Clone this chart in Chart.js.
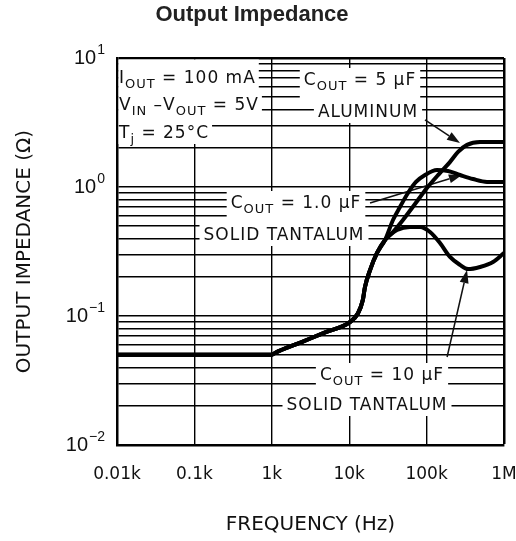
<!DOCTYPE html>
<html>
<head>
<meta charset="utf-8">
<title>Output Impedance</title>
<script src="https://cdn.jsdelivr.net/npm/chart.js@4.4.0/dist/chart.umd.min.js"></script>
<style>
  html, body { margin: 0; padding: 0; background: #fff; }
  canvas { display: block; }
</style>
</head>
<body>
<canvas id="impedanceChart" width="516" height="541"></canvas>
<script>
// frequency in Hz, impedance in ohms

// shared part: all three caps follow this up to ~30 kHz
const freqTrunk = [10, 100, 1000, 1100, 2300, 4900, 10200, 13000, 15000, 16000, 18600, 22900, 29000];
const zTrunk    = [0.05, 0.05, 0.05, 0.0517, 0.062, 0.0746, 0.0898, 0.105, 0.133, 0.168, 0.227, 0.308, 0.388];

// C_OUT = 10 uF solid tantalum
const freq10uF = [33700, 41500, 61100, 82300, 110700, 149000, 200500, 270000, 343000, 490000, 721000, 1000000];
const z10uF    = [0.425, 0.465, 0.49, 0.49, 0.448, 0.368, 0.287, 0.249, 0.231, 0.24, 0.262, 0.308];

// C_OUT = 1.0 uF solid tantalum
const freq1uF = [36800, 45300, 57500, 72900, 95300, 136000, 189000, 270000, 397000, 603000, 1000000];
const z1uF    = [0.555, 0.70, 0.898, 1.094, 1.239, 1.354, 1.33, 1.239, 1.153, 1.094, 1.094];

// C_OUT = 5 uF aluminum
const freq5uF = [36800, 49500, 70800, 101000, 144500, 200000, 255000, 333000, 490000, 1000000];
const z5uF    = [0.448, 0.555, 0.738, 0.982, 1.26, 1.56, 1.87, 2.12, 2.23, 2.23];

// ticks / grid
const xTickValues = [10, 100, 1000, 10000, 100000, 1000000];
const xTickLabels = ['0.01k', '0.1k', '1k', '10k', '100k', '1M'];
const yGridValues = [0.01, 0.02, 0.03, 0.04, 0.05, 0.06, 0.07, 0.08, 0.09,
                     0.1, 0.2, 0.3, 0.4, 0.5, 0.6, 0.7, 0.8, 0.9,
                     1, 2, 3, 4, 5, 6, 7, 8, 9, 10];
const yDecades   = [0.01, 0.1, 1, 10];
const yExponents = ['\u22122', '\u22121', '0', '1'];

const LABEL_FONT = '"DejaVu Sans", sans-serif';

// text blocks inside the plot (pixel offsets from the plot's top-left corner)
const noteGroups = [
    { padX: 3, rows: [
        { x: 2, y: 25, align: 'left', toTop: true, parts: [['I'], ['OUT', 1], [' = 100 mA']] },
        { x: 2, y: 52, align: 'left', parts: [['V'], ['IN', 1], [' \u2013V'], ['OUT', 1], [' = 5V']] },
        { x: 2, y: 80, align: 'left', parts: [['T'], ['j', 1], [' = 25\u00B0C']] }
    ]},
    { padX: 4, rows: [
        { x: 243, y: 27, align: 'center', parts: [['C'], ['OUT', 1], [' = 5 \u00B5F']] },
        { x: 251, y: 59, align: 'center', parts: [['ALUMINUM']] }
    ]},
    { padX: 4, rows: [
        { x: 179, y: 150, align: 'center', parts: [['C'], ['OUT', 1], [' = 1.0 \u00B5F']] },
        { x: 167, y: 182, align: 'center', parts: [['SOLID TANTALUM']] }
    ]},
    { padX: 4, rows: [
        { x: 265, y: 322, align: 'center', parts: [['C'], ['OUT', 1], [' = 10 \u00B5F']] },
        { x: 250, y: 352, align: 'center', parts: [['SOLID TANTALUM']] }
    ]}
];

// leader arrows, tail -> tip in data coords (Hz, ohm)
const arrows = [
    { from: [95300, 3.31],  to: [270000, 2.19] },
    { from: [18600, 0.751], to: [286000, 1.24] },
    { from: [184000, 0.0481], to: [333000, 0.227] }
];

function toPoints(fs, zs) {
    return fs.map((f, i) => ({ x: f, y: zs[i] }));
}

function measureRow(ctx, row) {
    const widths = row.parts.map(p => {
        ctx.font = (p[1] ? '13px ' : '17px ') + LABEL_FONT;
        return ctx.measureText(p[0]).width;
    });
    return { widths, total: widths.reduce((a, b) => a + b, 0) };
}

const notesPlugin = {
    id: 'notes',
    beforeDatasetsDraw(chart) {
        const ctx = chart.ctx;
        const area = chart.chartArea;
        ctx.save();
        ctx.letterSpacing = '1px';

        // white patches behind the text first
        noteGroups.forEach(group => {
            const laid = group.rows.map(row => {
                const m = measureRow(ctx, row);
                const ax = area.left + row.x;
                const start = row.align === 'center' ? ax - m.total / 2 : ax;
                return { row, m, start, base: area.top + row.y };
            });
            laid.forEach((l, i) => {
                let top = l.row.toTop ? area.top + 1.5 : l.base - 17;
                let bottom = i < laid.length - 1 ? laid[i + 1].base - 17 : l.base + 6;
                let left = Math.max(area.left + 1.5, l.start - group.padX);
                let right = l.start + l.m.total + group.padX;
                ctx.fillStyle = '#fff';
                ctx.fillRect(left, top, right - left, bottom - top);
            });
            group.laid = laid;
        });

        // text
        ctx.fillStyle = '#111';
        ctx.textBaseline = 'alphabetic';
        ctx.textAlign = 'left';
        noteGroups.forEach(group => {
            group.laid.forEach(l => {
                let x = l.start;
                l.row.parts.forEach((p, j) => {
                    ctx.font = (p[1] ? '13px ' : '17px ') + LABEL_FONT;
                    ctx.fillText(p[0], x, l.base + (p[1] ? 5 : 0));
                    x += l.m.widths[j];
                });
            });
        });
        ctx.letterSpacing = '0px';

        // arrows
        const xs = chart.scales.x, ys = chart.scales.y;
        ctx.strokeStyle = '#111';
        ctx.fillStyle = '#111';
        ctx.lineWidth = 1.5;
        arrows.forEach(a => {
            const x1 = xs.getPixelForValue(a.from[0]), y1 = ys.getPixelForValue(a.from[1]);
            const x2 = xs.getPixelForValue(a.to[0]), y2 = ys.getPixelForValue(a.to[1]);
            const ang = Math.atan2(y2 - y1, x2 - x1);
            const len = 13, half = 4.5;
            const bx = x2 - len * Math.cos(ang), by = y2 - len * Math.sin(ang);
            ctx.beginPath();
            ctx.moveTo(x1, y1);
            ctx.lineTo(bx, by);
            ctx.stroke();
            ctx.beginPath();
            ctx.moveTo(x2, y2);
            ctx.lineTo(bx + half * Math.sin(ang), by - half * Math.cos(ang));
            ctx.lineTo(bx - half * Math.sin(ang), by + half * Math.cos(ang));
            ctx.closePath();
            ctx.fill();
        });
        ctx.restore();
    },
    afterDraw(chart) {
        // 10^n labels on the y axis
        const ctx = chart.ctx;
        const ys = chart.scales.y;
        const right = chart.chartArea.left - 12;
        ctx.save();
        ctx.fillStyle = '#111';
        ctx.textAlign = 'right';
        ctx.textBaseline = 'middle';
        yDecades.forEach((v, i) => {
            const y = ys.getPixelForValue(v);
            ctx.font = '14px "Liberation Sans", Arial, sans-serif';
            const ew = ctx.measureText(yExponents[i]).width;
            ctx.fillText(yExponents[i], right, y - 8);
            ctx.font = '20px "Liberation Sans", Arial, sans-serif';
            ctx.fillText('10', right - ew - 1, y);
        });
        ctx.restore();
    }
};

const curveStyle = {
    borderColor: '#000',
    borderWidth: 4,
    pointRadius: 0,
    fill: false,
    cubicInterpolationMode: 'monotone',
    borderJoinStyle: 'round',
    borderCapStyle: 'round'
};

new Chart(document.getElementById('impedanceChart'), {
    type: 'line',
    data: {
        datasets: [
            { label: '10 uF tantalum', data: toPoints(freqTrunk.concat(freq10uF), zTrunk.concat(z10uF)), ...curveStyle },
            { label: '1.0 uF tantalum', data: toPoints(freqTrunk.concat(freq1uF), zTrunk.concat(z1uF)), ...curveStyle },
            { label: '5 uF aluminum', data: toPoints(freqTrunk.concat(freq5uF), zTrunk.concat(z5uF)), ...curveStyle }
        ]
    },
    options: {
        responsive: false,
        animation: false,
        events: [],
        layout: { padding: { left: 0, right: 12, top: 0, bottom: 0 } },
        plugins: {
            legend: { display: false },
            tooltip: { enabled: false },
            title: {
                display: true,
                text: 'Output Impedance',
                color: '#222',
                font: { family: '"Liberation Sans", Arial, sans-serif', size: 22, weight: 'bold' },
                padding: { top: 2, bottom: 29.6 }
            }
        },
        scales: {
            x: {
                type: 'logarithmic',
                min: 10,
                max: 1000000,
                afterBuildTicks: s => { s.ticks = xTickValues.map(v => ({ value: v })); },
                afterFit: s => { s.height = 96; s.paddingLeft = 0; s.paddingRight = 0; },
                ticks: {
                    autoSkip: false,
                    maxRotation: 0,
                    padding: 19,
                    color: '#111',
                    font: { family: LABEL_FONT, size: 17 },
                    callback: (v, i) => xTickLabels[i]
                },
                grid: {
                    color: '#000',
                    drawTicks: false,
                    lineWidth: c => (c.tick && c.tick.value === 1000000) ? 2.5 : 1.4
                },
                border: { color: '#000', width: 2.5 },
                title: {
                    display: true,
                    text: 'FREQUENCY (Hz)',
                    color: '#111',
                    font: { family: LABEL_FONT, size: 20 },
                    padding: { top: 0, bottom: 4 }
                }
            },
            y: {
                type: 'logarithmic',
                min: 0.01,
                max: 10,
                afterBuildTicks: s => { s.ticks = yGridValues.map(v => ({ value: v })); },
                afterFit: s => { s.width = 117; },
                ticks: { display: false },
                grid: {
                    color: '#000',
                    drawTicks: false,
                    lineWidth: c => (c.tick && c.tick.value === 10) ? 2.5 : 1.4
                },
                border: { color: '#000', width: 2.5 },
                title: {
                    display: true,
                    text: 'OUTPUT IMPEDANCE (\u03A9)',
                    color: '#111',
                    font: { family: LABEL_FONT, size: 20 },
                    padding: { top: 13, bottom: 0 }
                }
            }
        }
    },
    plugins: [notesPlugin]
});
</script>
</body>
</html>
